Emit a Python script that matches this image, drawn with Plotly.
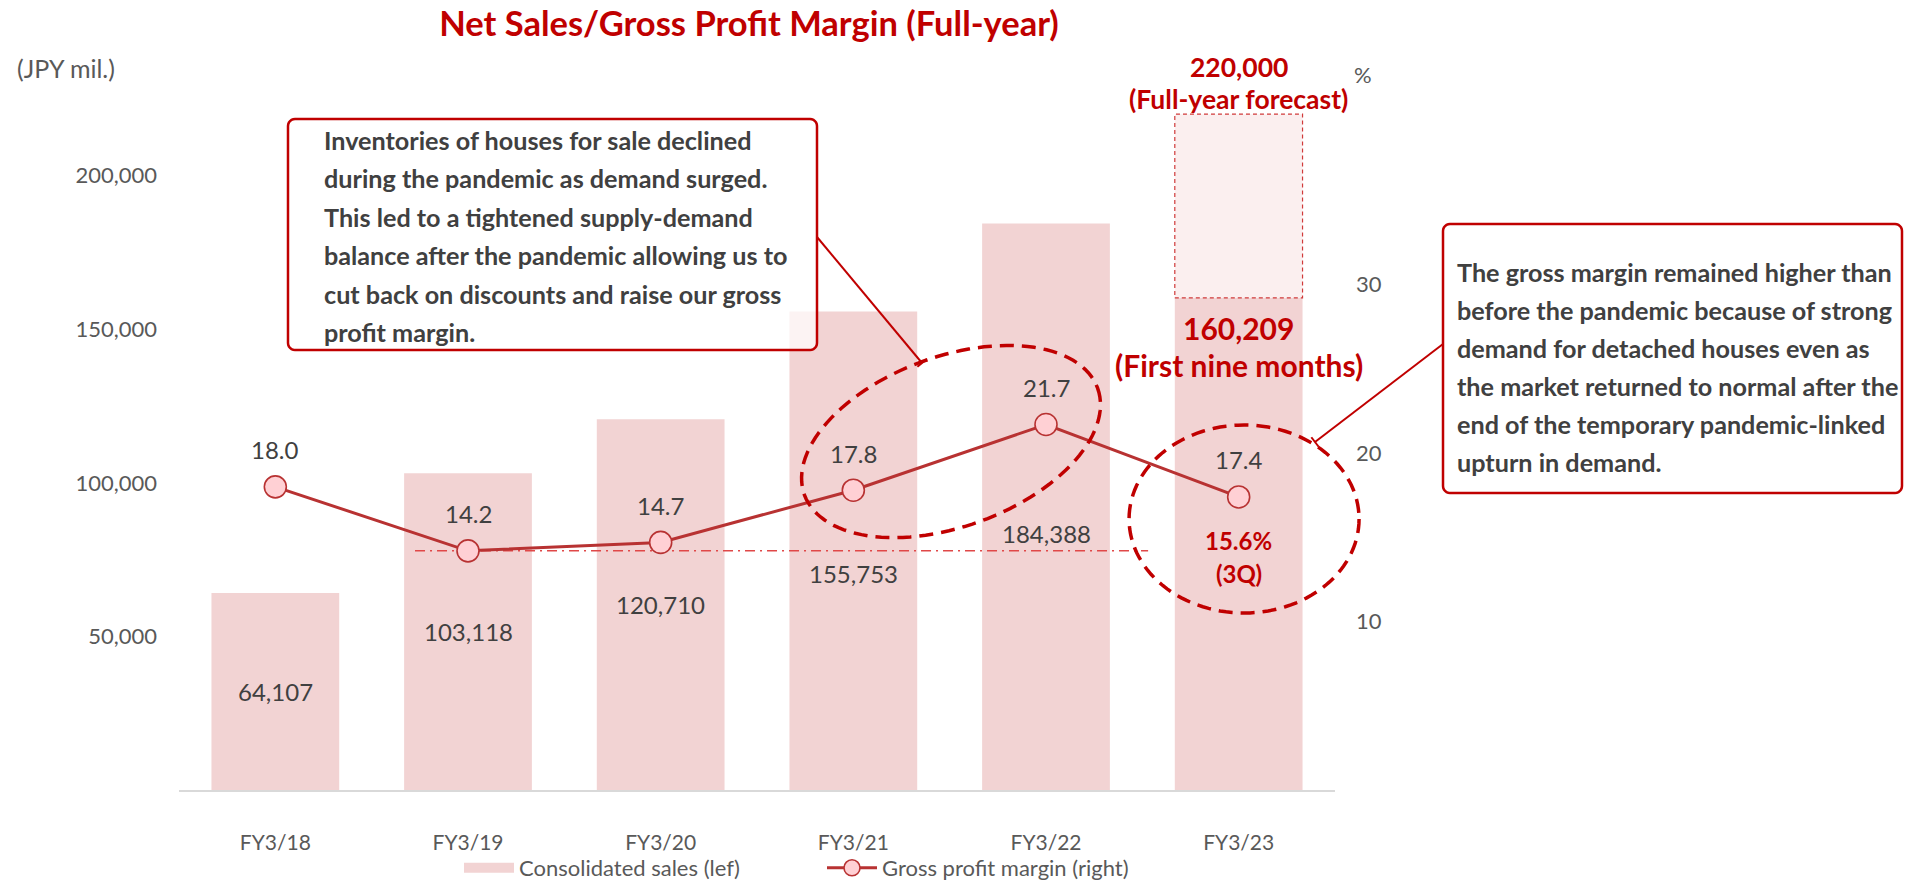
import math
import plotly.graph_objects as go

# ---------------- data ----------------
categories = ["FY3/18", "FY3/19", "FY3/20", "FY3/21", "FY3/22", "FY3/23"]
net_sales = [64107, 103118, 120710, 155753, 184388, 160209]
gross_margin = [18.0, 14.2, 14.7, 17.8, 21.7, 17.4]
forecast_sales_fy23 = 220000
margin_3q_label = "15.6%"
left_ticks = [50000, 100000, 150000, 200000]
right_ticks = [10, 20, 30]
note_left = [
    "Inventories of houses for sale declined",
    "during the pandemic as demand surged.",
    "This led to a tightened supply-demand",
    "balance after the pandemic allowing us to",
    "cut back on discounts and raise our gross",
    "profit margin.",
]
note_right = [
    "The gross margin remained higher than",
    "before the pandemic because of strong",
    "demand for detached houses even as",
    "the market returned to normal after the",
    "end of the temporary pandemic-linked",
    "upturn in demand.",
]

# ---------------- geometry / style ----------------
W, H = 1912, 881
ML, MR, MT, MB = 179, 577, 22, 91
PW = W - ML - MR
PH = H - MT - MB
BOTTOM = MT + PH
Y1_MAX = 250000
Y2_MAX = 45.6
X_MIN, X_MAX = -0.5, 5.5
PX_X = PW / (X_MAX - X_MIN)
PX_Y2 = PH / Y2_MAX
BAR_W = 0.663

FONT = "Lato"
RED = "#C00000"
LINE_RED = "#B83232"
BAR = "#F2D3D3"
FC_FILL = "#FBEFEF"
MK_FILL = "#FFD0D4"
TXT = "#404040"
AX = "#595959"


def PX(px):
    return (px - ML) / PW


def PY(py):
    return (BOTTOM - py) / PH


def x_to_px(x):
    return ML + (x - X_MIN) * PX_X


def y2_to_px(y):
    return BOTTOM - y * PX_Y2


def pix_path(points, close=True):
    s = "M" + " L".join(f"{PX(x):.5f},{PY(y):.5f}" for x, y in points)
    return s + (" Z" if close else "")


def ellipse_pts(cx, cy, a, b, rot_deg, n=120):
    r = math.radians(rot_deg)
    pts = []
    for i in range(n):
        t = 2 * math.pi * i / n
        ex, ey = a * math.cos(t), b * math.sin(t)
        px = cx + ex * math.cos(r) + ey * math.sin(r)
        py = cy - ex * math.sin(r) + ey * math.cos(r)
        pts.append((px, py))
    return pts


def rounded_rect(x0, y0, x1, y1, rad):
    pts = []
    centers = [(x1 - rad, y0 + rad), (x1 - rad, y1 - rad), (x0 + rad, y1 - rad), (x0 + rad, y0 + rad)]
    starts = [-90, 0, 90, 180]
    for (cx, cy), st in zip(centers, starts):
        for k in range(7):
            ang = math.radians(st + 90 * k / 6)
            pts.append((cx + rad * math.cos(ang), cy + rad * math.sin(ang)))
    return pts


xs = list(range(len(categories)))
i23 = categories.index("FY3/23")

fig = go.Figure()
fig.add_trace(go.Bar(
    x=xs, y=net_sales, width=BAR_W, marker=dict(color=BAR, line=dict(width=0)),
    name="Consolidated sales (lef)", showlegend=False, hoverinfo="skip",
))
fig.add_trace(go.Bar(
    x=[i23], y=[forecast_sales_fy23 - net_sales[i23]], base=[net_sales[i23]], width=BAR_W,
    marker=dict(color=FC_FILL, line=dict(width=0)), showlegend=False, hoverinfo="skip",
))
# reference level (FY3/19 margin)
fig.add_trace(go.Scatter(
    x=[xs[1] - 0.275, xs[4] + 0.53], y=[gross_margin[1], gross_margin[1]], yaxis="y2",
    mode="lines", line=dict(color="#E04848", width=1.5, dash="10px,5px,2px,5px"),
    showlegend=False, hoverinfo="skip",
))
fig.add_trace(go.Scatter(
    x=xs, y=gross_margin, yaxis="y2", mode="lines+markers",
    line=dict(color=LINE_RED, width=3),
    marker=dict(size=22, color=MK_FILL, line=dict(color=LINE_RED, width=1.6)),
    name="Gross profit margin (right)", hoverinfo="skip", legendrank=2,
))
# legend swatch for the sales bars (wide pink block, as in the reference legend)
fig.add_trace(go.Scatter(
    x=[None], y=[None], mode="lines", line=dict(color=BAR, width=14),
    name="Consolidated sales (lef)", hoverinfo="skip", legendrank=1,
))

ann = []
lab_font = dict(family=FONT, size=24, color=TXT)
for x, v in zip(xs, gross_margin):
    ann.append(dict(x=x, y=v, xref="x", yref="y2", text=f"{v:.1f}", showarrow=False,
                    yshift=37, font=lab_font))
sales_shift = [0, 0, 0, -23, -27, None]
for x, v, sh in zip(xs, net_sales, sales_shift):
    if sh is None:
        continue
    ann.append(dict(x=x, y=v / 2, xref="x", yref="y", text=f"{v:,}", showarrow=False,
                    yshift=sh, font=lab_font))
red9 = dict(family=FONT, size=30, color=RED, weight="bold")
redf = dict(family=FONT, size=26.5, color=RED, weight="bold")
red3 = dict(family=FONT, size=24, color=RED, weight="bold")
ann += [
    dict(x=i23, y=net_sales[i23], xref="x", yref="y", text=f"{net_sales[i23]:,}", showarrow=False,
         yshift=-30, font=red9),
    dict(x=i23, y=net_sales[i23], xref="x", yref="y", text="(First nine months)", showarrow=False,
         yshift=-67, font=red9),
    dict(x=i23, y=forecast_sales_fy23, xref="x", yref="y", text=f"{forecast_sales_fy23:,}",
         showarrow=False, yshift=47, font=redf),
    dict(x=i23, y=forecast_sales_fy23, xref="x", yref="y", text="(Full-year forecast)",
         showarrow=False, yshift=15, font=redf),
    dict(x=i23, y=gross_margin[i23], xref="x", yref="y2", text=margin_3q_label, showarrow=False,
         yshift=-44, font=red3),
    dict(x=i23, y=gross_margin[i23], xref="x", yref="y2", text="(3Q)", showarrow=False,
         yshift=-77, font=red3),
]
ann += [
    dict(x=PX(15), y=PY(68), xref="paper", yref="paper", text="(JPY mil.)", showarrow=False,
         xanchor="left", yanchor="middle", font=dict(family=FONT, size=25, color=AX)),
    dict(x=PX(1363), y=PY(75), xref="paper", yref="paper", text="%", showarrow=False,
         xanchor="center", yanchor="middle", font=dict(family=FONT, size=22, color=AX)),
]
note_font = dict(family=FONT, size=25.2, color=TXT, weight="bold")
for k, line in enumerate(note_left):
    ann.append(dict(x=PX(322), y=PY(140 + 38.4 * k), xref="paper", yref="paper", text=line,
                    showarrow=False, xanchor="left", yanchor="middle", font=note_font))
for k, line in enumerate(note_right):
    ann.append(dict(x=PX(1455), y=PY(272 + 38 * k), xref="paper", yref="paper", text=line,
                    showarrow=False, xanchor="left", yanchor="middle", font=note_font))

shapes = []
shapes.append(dict(type="rect", xref="x", yref="y", x0=i23 - BAR_W / 2, x1=i23 + BAR_W / 2,
                   y0=net_sales[i23], y1=forecast_sales_fy23,
                   line=dict(color="#D03A3A", width=1.2, dash="4px,3px"), fillcolor="rgba(0,0,0,0)"))
e1 = ellipse_pts(x_to_px(3.507), y2_to_px(20.69), 156, 85, 20)
e2 = ellipse_pts(x_to_px(5.028), y2_to_px(16.09), 115, 94, 0)
for e in (e1, e2):
    shapes.append(dict(type="path", xref="paper", yref="paper", path=pix_path(e),
                       line=dict(color=RED, width=3.5, dash="14px,8px")))
for (x0, y0, x1, y1) in [(288, 119, 817, 350), (1443, 224, 1902, 493)]:
    shapes.append(dict(type="path", xref="paper", yref="paper",
                       path=pix_path(rounded_rect(x0, y0, x1, y1, 7)),
                       fillcolor="rgba(255,255,255,0.72)", line=dict(color=RED, width=2.5)))
for (sx, sy, ex, ey) in [(817, 237, 922, 363), (1443, 344, 1315, 442)]:
    shapes.append(dict(type="line", xref="paper", yref="paper", x0=PX(sx), y0=PY(sy), x1=PX(ex), y1=PY(ey),
                       line=dict(color=RED, width=2)))
    dx, dy = ex - sx, ey - sy
    n = math.hypot(dx, dy)
    ux, uy = -dy / n * 6, dx / n * 6
    shapes.append(dict(type="line", xref="paper", yref="paper", x0=PX(ex - ux), y0=PY(ey - uy),
                       x1=PX(ex + ux), y1=PY(ey + uy), line=dict(color=RED, width=2)))

fig.update_layout(
    width=W, height=H,
    margin=dict(l=ML, r=MR, t=MT, b=MB, autoexpand=False),
    paper_bgcolor="white", plot_bgcolor="white",
    barmode="overlay",
    title=dict(text="<b>Net Sales/Gross Profit Margin (Full-year)</b>", x=749 / W, xanchor="center",
               y=1 - 24 / H, yanchor="middle", font=dict(family=FONT, size=34.5, color=RED)),
    xaxis=dict(range=[X_MIN, X_MAX], tickmode="array", tickvals=xs, ticktext=categories,
               showgrid=False, zeroline=False, showline=True, linecolor="#D9D9D9", linewidth=2,
               ticks="", ticklabelstandoff=33, tickfont=dict(family=FONT, size=21, color=AX)),
    yaxis=dict(range=[0, Y1_MAX], tickmode="array", tickvals=left_ticks,
               ticktext=[f"{v:,}" for v in left_ticks], showgrid=False, zeroline=False,
               showline=False, ticks="", ticklabelstandoff=21,
               tickfont=dict(family=FONT, size=22, color=AX)),
    yaxis2=dict(range=[0, Y2_MAX], overlaying="y", side="right", tickmode="array",
                tickvals=right_ticks, ticktext=[str(v) for v in right_ticks], showgrid=False,
                zeroline=False, showline=False, ticks="", ticklabelstandoff=20,
                tickfont=dict(family=FONT, size=22, color=AX)),
    legend=dict(orientation="h", x=PX(459), y=PY(868), xanchor="left", yanchor="middle",
                font=dict(family=FONT, size=22, color=AX), bgcolor="rgba(0,0,0,0)",
                itemwidth=50, entrywidth=298, entrywidthmode="pixels", traceorder="normal"),
    annotations=ann,
    shapes=shapes,
    showlegend=True,
)

fig.write_html("out.html", config={"displayModeBar": False},
               post_script="document.body.style.margin='0';")
